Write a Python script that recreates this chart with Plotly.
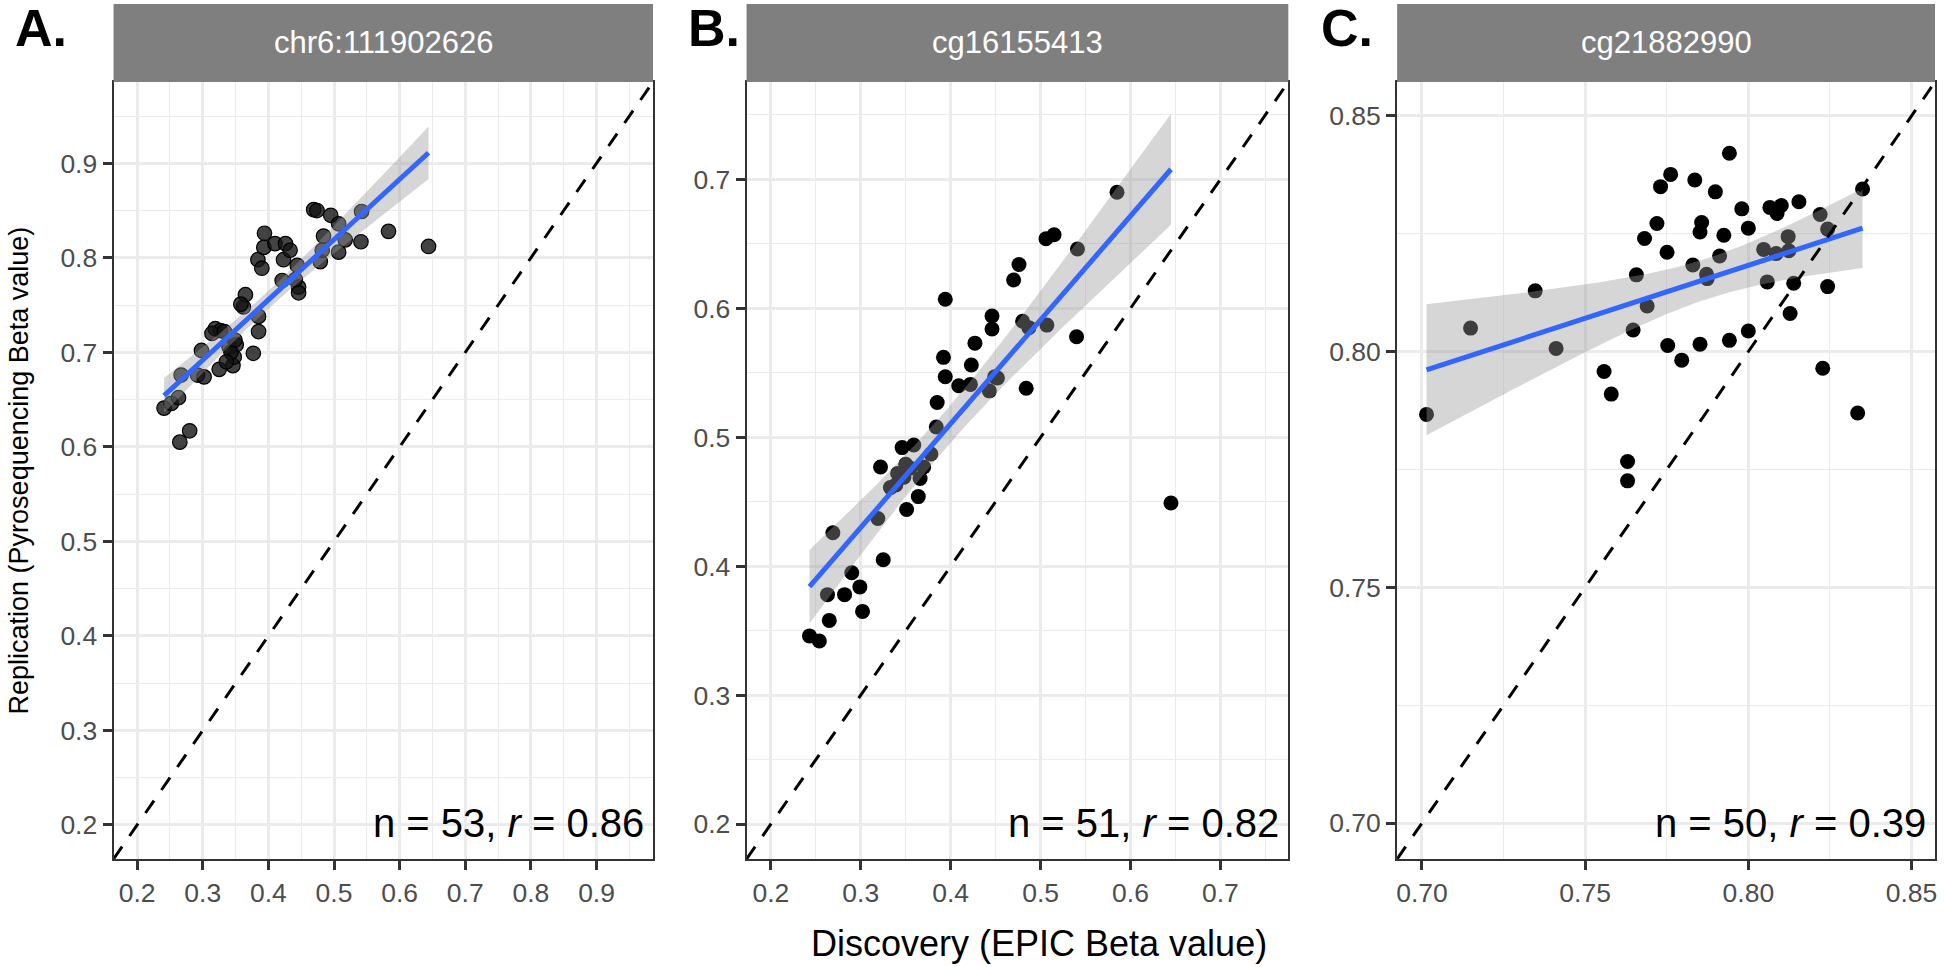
import numpy as np
import plotly.graph_objects as go

W, H = 1944, 967

# ---------------- data ----------------
panel_titles = ["chr6:111902626", "cg16155413", "cg21882990"]
panel_tags = ["A.", "B.", "C."]
stat_labels = ["n = 53, <i>r</i> = 0.86", "n = 51, <i>r</i> = 0.82", "n = 50, <i>r</i> = 0.39"]
x_title = "Discovery (EPIC Beta value)"
y_title = "Replication (Pyrosequencing Beta value)"

a_x = [0.241, 0.252, 0.263, 0.280, 0.265, 0.267, 0.292, 0.302, 0.298, 0.325,
       0.346, 0.348, 0.351, 0.340, 0.319, 0.327, 0.314, 0.377, 0.385, 0.385,
       0.362, 0.365, 0.384, 0.390, 0.393, 0.394, 0.410, 0.423, 0.426, 0.433,
       0.421, 0.444, 0.446, 0.446, 0.479, 0.484, 0.469, 0.474, 0.495, 0.507,
       0.507, 0.517, 0.482, 0.542, 0.541, 0.583, 0.644, 0.333, 0.343, 0.349,
       0.358, 0.441, 0.336]
a_y = [0.641, 0.646, 0.652, 0.617, 0.605, 0.676, 0.676, 0.674, 0.702, 0.682,
       0.686, 0.695, 0.708, 0.706, 0.725, 0.723, 0.720, 0.699, 0.722, 0.738,
       0.748, 0.761, 0.798, 0.789, 0.811, 0.826, 0.815, 0.798, 0.815, 0.808,
       0.776, 0.792, 0.769, 0.763, 0.796, 0.823, 0.851, 0.850, 0.845, 0.836,
       0.806, 0.819, 0.808, 0.849, 0.817, 0.828, 0.812, 0.722, 0.700, 0.713,
       0.751, 0.777, 0.690]

b_x = [0.243, 0.254, 0.265, 0.263, 0.282, 0.299, 0.302, 0.290, 0.269, 0.325,
       0.319, 0.351, 0.364, 0.366, 0.333, 0.341, 0.350, 0.348, 0.322, 0.346,
       0.359, 0.378, 0.384, 0.385, 0.394, 0.392, 0.394, 0.409, 0.422, 0.423,
       0.427, 0.443, 0.449, 0.446, 0.446, 0.470, 0.476, 0.484, 0.480, 0.487,
       0.507, 0.506, 0.515, 0.541, 0.540, 0.585, 0.645, 0.355, 0.370, 0.339,
       0.452]
b_y = [0.346, 0.342, 0.358, 0.378, 0.378, 0.384, 0.365, 0.395, 0.426, 0.405,
       0.437, 0.444, 0.454, 0.468, 0.461, 0.472, 0.479, 0.469, 0.477, 0.492,
       0.494, 0.487, 0.508, 0.527, 0.547, 0.562, 0.607, 0.540, 0.541, 0.556,
       0.573, 0.536, 0.547, 0.584, 0.594, 0.622, 0.634, 0.538, 0.590, 0.585,
       0.587, 0.654, 0.657, 0.646, 0.578, 0.690, 0.449, 0.476, 0.477, 0.463,
       0.546]

c_x = [0.7014, 0.7149, 0.7347, 0.7411, 0.7558, 0.7580, 0.7630, 0.7630, 0.7647, 0.7657,
       0.7690, 0.7682, 0.7720, 0.7731, 0.7762, 0.7751, 0.7753, 0.7796, 0.7830, 0.7836,
       0.7852, 0.7852, 0.7857, 0.7872, 0.7874, 0.7899, 0.7925, 0.7912, 0.7942, 0.7942,
       0.7980, 0.8000, 0.8000, 0.8047, 0.8058, 0.8066, 0.8088, 0.8101, 0.8085, 0.8122,
       0.8124, 0.8139, 0.8128, 0.8155, 0.8220, 0.8243, 0.8243, 0.8228, 0.8350, 0.8335]
c_y = [0.7867, 0.8050, 0.8129, 0.8007, 0.7958, 0.7910, 0.7767, 0.7726, 0.8046, 0.8163,
       0.8097, 0.8240, 0.8272, 0.8350, 0.8376, 0.8211, 0.8013, 0.7982, 0.8184, 0.8364,
       0.8016, 0.8254, 0.8274, 0.8164, 0.8155, 0.8339, 0.8247, 0.8203, 0.8421, 0.8024,
       0.8303, 0.8262, 0.8044, 0.8217, 0.8148, 0.8306, 0.8293, 0.8310, 0.8208, 0.8244,
       0.8214, 0.8145, 0.8081, 0.8318, 0.8291, 0.8260, 0.8138, 0.7965, 0.8345, 0.7870]

axis_limits = [(0.164, 0.986), (0.173, 0.7755), (0.6924, 0.8572)]
major_step = [0.1, 0.1, 0.05]
minor_step = [0.05, 0.05, 0.025]
tick_fmt = [".1f", ".1f", ".2f"]

# ---------------- layout geometry (pixels) ----------------
px_left = [112.7, 746.7, 1398.3]
px_right = [653.0, 1289.3, 1937.0]
px_top, px_bottom = 82.0, 859.0
strip_top = 4.0
tag_cx = [40, 714, 1348]

FONT = "Liberation Sans, Arial, Helvetica, sans-serif"


def fx(px):
    return px / W


def fy(py):
    return 1 - py / H


def lm_band(x, y, n_pts=100, t=2.01):
    x = np.asarray(x, float)
    y = np.asarray(y, float)
    n = len(x)
    b, a = np.polyfit(x, y, 1)
    xs = np.linspace(x.min(), x.max(), n_pts)
    yhat = a + b * xs
    resid = y - (a + b * x)
    s = np.sqrt(np.sum(resid ** 2) / (n - 2))
    xm = x.mean()
    sxx = np.sum((x - xm) ** 2)
    se = s * np.sqrt(1.0 / n + (xs - xm) ** 2 / sxx)
    return xs, yhat, yhat - t * se, yhat + t * se


fig = go.Figure()
datasets = [(a_x, a_y), (b_x, b_y), (c_x, c_y)]
shapes = []
annotations = []

for i, (xd, yd) in enumerate(datasets):
    xa = "x" if i == 0 else f"x{i+1}"
    ya = "y" if i == 0 else f"y{i+1}"
    if i == 0:
        marker = dict(size=14.5, color="rgba(20,20,20,0.80)", line=dict(color="black", width=1.2))
    else:
        marker = dict(size=15, color="black", line=dict(width=0))
    fig.add_trace(go.Scatter(x=xd, y=yd, mode="markers", marker=marker,
                             xaxis=xa, yaxis=ya, showlegend=False, hoverinfo="skip"))
    xs, yhat, lo, hi = lm_band(xd, yd)
    fig.add_trace(go.Scatter(x=list(xs) + list(xs[::-1]), y=list(hi) + list(lo[::-1]),
                             fill="toself", fillcolor="rgba(153,153,153,0.4)",
                             line=dict(width=0), mode="lines",
                             xaxis=xa, yaxis=ya, showlegend=False, hoverinfo="skip"))
    fig.add_trace(go.Scatter(x=xs, y=yhat, mode="lines", line=dict(color="#3366FF", width=5),
                             xaxis=xa, yaxis=ya, showlegend=False, hoverinfo="skip"))
    lo_lim, hi_lim = axis_limits[i]
    fig.add_trace(go.Scatter(x=[lo_lim, hi_lim], y=[lo_lim, hi_lim], mode="lines",
                             line=dict(color="black", width=3, dash="15px,13px"),
                             xaxis=xa, yaxis=ya, showlegend=False, hoverinfo="skip"))

    ax_common = dict(
        range=list(axis_limits[i]), showgrid=True, gridcolor="#EBEBEB", gridwidth=2.5,
        dtick=major_step[i], tick0=0, tickformat=tick_fmt[i],
        minor=dict(dtick=minor_step[i], tick0=0, showgrid=True, gridcolor="#EBEBEB",
                   gridwidth=1.3, ticks=""),
        zeroline=False, showline=True, mirror=True, linecolor="#333333", linewidth=2,
        ticks="outside", ticklen=9, tickwidth=2.5, tickcolor="#333333",
        tickfont=dict(family=FONT, size=26.5, color="#4D4D4D"),
    )
    xkey = "xaxis" if i == 0 else f"xaxis{i+1}"
    ykey = "yaxis" if i == 0 else f"yaxis{i+1}"
    fig.layout[xkey] = dict(ax_common, domain=[fx(px_left[i]), fx(px_right[i])], anchor=ya)
    fig.layout[ykey] = dict(ax_common, domain=[fy(px_bottom), fy(px_top)], anchor=xa)

    # strip
    shapes.append(dict(type="rect", xref="paper", yref="paper",
                       x0=fx(px_left[i]), x1=fx(px_right[i]), y0=fy(px_top), y1=fy(strip_top),
                       fillcolor="#7F7F7F", line=dict(width=0), layer="above"))
    annotations.append(dict(text=panel_titles[i], xref="paper", yref="paper",
                            x=fx((px_left[i] + px_right[i]) / 2), y=fy((px_top + strip_top) / 2),
                            xanchor="center", yanchor="middle", showarrow=False,
                            font=dict(family=FONT, size=31, color="white")))
    # panel tag
    annotations.append(dict(text="<b>" + panel_tags[i] + "</b>", xref="paper", yref="paper",
                            x=fx(tag_cx[i]), y=fy(28), xanchor="center", yanchor="middle",
                            showarrow=False, font=dict(family=FONT, size=52, color="black")))
    # stat label
    annotations.append(dict(text=stat_labels[i], xref="paper", yref="paper",
                            x=fx(px_right[i] - 7), y=fy(823), xanchor="right", yanchor="middle",
                            showarrow=False, font=dict(family=FONT, size=40, color="black")))

annotations.append(dict(text=x_title, xref="paper", yref="paper",
                        x=fx(1040), y=fy(943),
                        xanchor="center", yanchor="middle", showarrow=False,
                        font=dict(family=FONT, size=36, color="black")))
annotations.append(dict(text=y_title, xref="paper", yref="paper",
                        x=fx(18), y=fy((px_top + px_bottom) / 2), textangle=-90,
                        xanchor="center", yanchor="middle", showarrow=False,
                        font=dict(family=FONT, size=27, color="black")))

fig.update_layout(width=W, height=H, margin=dict(l=0, r=0, t=0, b=0),
                  paper_bgcolor="white", plot_bgcolor="white",
                  shapes=shapes, annotations=annotations, showlegend=False,
                  font=dict(family=FONT))

fig.write_html("out.html", config={"displayModeBar": False},
               post_script="document.body.style.margin='0px';")
